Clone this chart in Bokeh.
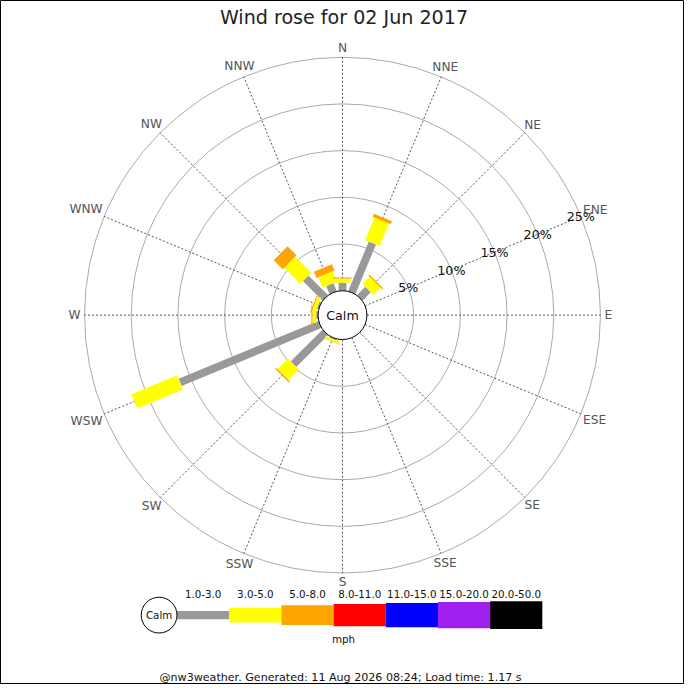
import math
from bokeh.plotting import figure
from bokeh.models import Range1d
from bokeh.core.properties import value
from bokeh.embed import file_html
from bokeh.resources import INLINE

# ---------------- data ----------------
title_text = "Wind rose for 02 Jun 2017"
directions = ["N", "NNE", "NE", "ENE", "E", "ESE", "SE", "SSE",
              "S", "SSW", "SW", "WSW", "W", "WNW", "NW", "NNW"]
range_labels = ["1.0-3.0", "3.0-5.0", "5.0-8.0", "8.0-11.0",
                "11.0-15.0", "15.0-20.0", "20.0-50.0"]
range_colors = ["#999999", "#ffff00", "#ffa500", "#ff0000",
                "#0000ff", "#a020f0", "#000000"]
# percentage of time per direction for each speed range (mph)
pct_1_3 = [0.85, 5.75, 1.25, 0, 0, 0, 0, 0, 0, 0.15, 4.8, 16.2, 0.2, 0.2, 2.96, 0.92]
pct_3_5 = [0.45, 2.6, 1.1, 0, 0, 0, 0, 0, 0, 0.25, 1.6, 5.3, 0.4, 0.4, 2.43, 1.2]
pct_5_8 = [0.12, 0.35, 0.15, 0, 0, 0, 0, 0, 0, 0.05, 0.15, 0, 0.12, 0.12, 1.36, 0.73]
pct_8_11 = [0] * 16
pct_11_15 = [0] * 16
pct_15_20 = [0] * 16
pct_20_50 = [0] * 16
ring_pcts = [5, 10, 15, 20, 25]
ring_labels = ["5%", "10%", "15%", "20%", "25%"]
unit_label = "mph"
calm_label = "Calm"
footer_text = "@nw3weather. Generated: 11 Aug 2026 08:24; Load time: 1.17 s"

series = [pct_1_3, pct_3_5, pct_5_8, pct_8_11, pct_11_15, pct_15_20, pct_20_50]

# ---------------- layout constants ----------------
S = 684 / 700.0          # page scale
R0 = 25.0                # calm circle radius
ROUT = 264.0             # outer ring radius (25 %)
K = (ROUT - R0) / ring_pcts[-1]
seg_widths = [8, 16, 20, 23, 25, 27, 28]


def fs(px):
    return "%.1fpx" % (px * S)


p = figure(width=684, height=684, x_range=Range1d(-350, 350), y_range=Range1d(-378, 322),
           output_backend="svg", toolbar_location=None, min_border=0,
           x_axis_location=None, y_axis_location=None)
p.grid.visible = False
p.outline_line_color = "black"
p.outline_line_width = 1
p.background_fill_color = "white"
p.border_fill_color = "white"

# rings
p.circle(x=[0] * len(ring_pcts), y=[0] * len(ring_pcts),
         radius=[R0 + K * v for v in ring_pcts],
         fill_color=None, line_color="#aaaaaa", line_width=1)

# radial guide lines
angs = [i * 2 * math.pi / len(directions) for i in range(len(directions))]
p.segment(x0=[R0 * math.sin(a) for a in angs], y0=[R0 * math.cos(a) for a in angs],
          x1=[ROUT * math.sin(a) for a in angs], y1=[ROUT * math.cos(a) for a in angs],
          line_color="#555555", line_width=1, line_dash="2 2")

# bars
for k, ser in enumerate(series):
    xs, ys, ws, hs, an = [], [], [], [], []
    for i, a in enumerate(angs):
        before = sum(series[j][i] for j in range(k))
        v = ser[i]
        if v <= 0:
            continue
        r1 = R0 + K * before
        r2 = R0 + K * (before + v)
        rm = (r1 + r2) / 2
        xs.append(rm * math.sin(a))
        ys.append(rm * math.cos(a))
        ws.append(r2 - r1)
        hs.append(seg_widths[k])
        an.append(math.pi / 2 - a)
    if xs:
        p.rect(x=xs, y=ys, width=ws, height=hs, angle=an,
               fill_color=range_colors[k], line_color=None)

# calm circle
p.circle(x=[0], y=[0], radius=R0, fill_color="white", line_color="black", line_width=1)
p.text(x=[0], y=[0], text=[calm_label], text_align="center", text_baseline="middle",
       text_font=value("DejaVu Sans"), text_font_size=fs(13), text_color="#111111")

# ring labels along ENE
ang_lab = angs[3]
p.text(x=[(R0 + K * v) * math.sin(ang_lab) for v in ring_pcts],
       y=[(R0 + K * v) * math.cos(ang_lab) for v in ring_pcts],
       text=ring_labels, text_align="center", text_baseline="middle",
       text_font=value("DejaVu Sans"), text_font_size=fs(13), text_color="#111111")

# compass labels
char_w = {"N": 9.5, "E": 8.0, "S": 8.2, "W": 12.6}
lx, ly = [], []
for d, a in zip(directions, angs):
    w = sum(char_w[c] for c in d)
    off = 4 + math.sqrt((math.sin(a) * w / 2) ** 2 + (math.cos(a) * 5) ** 2)
    lx.append((ROUT + off) * math.sin(a))
    ly.append((ROUT + off) * math.cos(a))
p.text(x=lx, y=ly, text=directions, text_align="center", text_baseline="middle",
       text_font=value("DejaVu Sans"), text_font_size=fs(12.5), text_color="#555555")

# title
p.text(x=[1.5], y=[305], text=[title_text], text_align="center", text_baseline="middle",
       text_font=value("DejaVu Sans"), text_font_size=fs(19.5), text_color="#222222")

# legend
leg_y = -307
leg_x0 = -169.3
leg_w = 53.4
leg_heights = [8.3, 15, 20.3, 23, 25, 27, 28.3]
p.rect(x=[leg_x0 + leg_w * (i + 0.5) for i in range(len(range_labels))],
       y=[leg_y] * len(range_labels), width=[leg_w] * len(range_labels),
       height=leg_heights, fill_color=range_colors, line_color=None)
p.circle(x=[-187.7], y=[leg_y], radius=18.3, fill_color="white", line_color="black")
p.text(x=[-187.7], y=[leg_y], text=[calm_label], text_align="center", text_baseline="middle",
       text_font=value("DejaVu Sans"), text_font_size=fs(10.5), text_color="#111111")
p.text(x=[leg_x0 + leg_w * (i + 0.5) for i in range(len(range_labels))],
       y=[-285] * len(range_labels), text=range_labels,
       text_align="center", text_baseline="middle",
       text_font=value("DejaVu Sans"), text_font_size=fs(10.5), text_color="#111111")
p.text(x=[1], y=[-331], text=[unit_label], text_align="center", text_baseline="middle",
       text_font=value("DejaVu Sans"), text_font_size=fs(10.5), text_color="#111111")

# footer
p.text(x=[-2], y=[-371], text=[footer_text], text_align="center", text_baseline="middle",
       text_font=value("DejaVu Sans"), text_font_size=fs(11.4), text_color="#111111")

open("out.html", "w").write(file_html(p, INLINE))
